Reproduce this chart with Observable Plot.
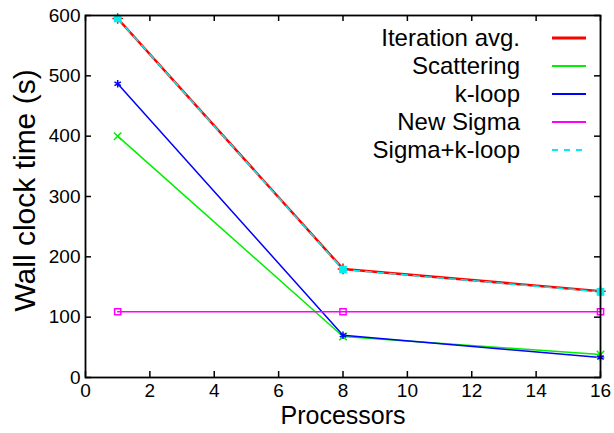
<!DOCTYPE html>
<html>
<head>
<meta charset="utf-8">
<script src="https://cdn.jsdelivr.net/npm/d3@7"></script>
<script src="https://cdn.jsdelivr.net/npm/@observablehq/plot@0.6"></script>
<style>
  html, body { margin: 0; padding: 0; background: #fff; }
  #wrap { position: relative; width: 614px; height: 433px; font-family: "Liberation Sans", Arial, Helvetica, sans-serif; }
  #legend { position: absolute; left: 0px; width: 586px; top: 24px; }
  .row { display: flex; align-items: center; justify-content: flex-end; height: 28px; }
  .row span { font-size: 24px; color: #000; white-space: nowrap; }
  .row svg { margin-left: 32px; margin-right: 0; }
</style>
</head>
<body>
<div id="wrap"></div>
<script>
const processors = [1, 8, 16];
const iterationAvg = [595, 180, 143];
const scattering = [400, 68, 38];
const kLoop = [487, 70, 33];
const newSigma = [109, 109, 109];
const sigmaKLoop = [595, 179, 142];

const xTicks = [0, 2, 4, 6, 8, 10, 12, 14, 16];
const yTicks = [0, 100, 200, 300, 400, 500, 600];

const seriesNames = ["Iteration avg.", "Scattering", "k-loop", "New Sigma", "Sigma+k-loop"];
const seriesValues = [iterationAvg, scattering, kLoop, newSigma, sigmaKLoop];
const seriesColors = ["#ff0000", "#00ee00", "#0000ff", "#ff00ff", "#00eeee"];
const seriesWidths = [2.5, 1.5, 1.5, 1.5, 1.5];
const seriesDash = [null, null, null, null, "6,6"];
const seriesSymbols = ["plus", "times", "asterisk", "square", "square"];
const seriesFill = [false, false, false, false, true];

const W = 614, H = 433, mL = 85, mR = 14, mT = 15, mB = 56, tickLen = 6;
const innerW = W - mL - mR, innerH = H - mT - mB;

const tables = seriesValues.map((vals, s) =>
  processors.map((p, i) => ({p, v: vals[i], s: seriesNames[s]})));

const marks = [];
tables.forEach((t, s) => {
  marks.push(Plot.line(t, {x: "p", y: "v", stroke: seriesColors[s], strokeWidth: seriesWidths[s], strokeDasharray: seriesDash[s]}));
});
tables.forEach((t, s) => {
  marks.push(Plot.dot(t, {x: "p", y: "v", symbol: seriesSymbols[s], r: 3.5,
    stroke: seriesColors[s], strokeWidth: 1.5,
    fill: seriesFill[s] ? seriesColors[s] : "none"}));
});

const tickStyle = {stroke: "#000", strokeOpacity: 1, strokeWidth: 1.5};

const chart = Plot.plot({
  width: W,
  height: H,
  marginLeft: mL,
  marginRight: mR,
  marginTop: mT,
  marginBottom: mB,
  style: {fontFamily: '"Liberation Sans", Arial, Helvetica, sans-serif', background: "#fff", color: "#000"},
  x: {domain: [0, 16]},
  y: {domain: [0, 600]},
  marks: [
    ...marks,
    Plot.axisX(xTicks, {anchor: "bottom", tickSize: 0, tickPadding: 6, fontSize: 19, label: null}),
    Plot.axisY(yTicks, {anchor: "left", tickSize: 0, tickPadding: 5, fontSize: 19, label: null}),
    Plot.gridX(xTicks, {...tickStyle, insetTop: innerH - tickLen}),
    Plot.gridX(xTicks, {...tickStyle, insetBottom: innerH - tickLen}),
    Plot.gridY(yTicks, {...tickStyle, insetRight: innerW - tickLen}),
    Plot.gridY(yTicks, {...tickStyle, insetLeft: innerW - tickLen}),
    Plot.frame({stroke: "#000", strokeWidth: 1.8}),
    Plot.text(["Processors"], {frameAnchor: "bottom", dy: 46, fontSize: 25, fill: "#000"}),
    Plot.text(["Wall clock time (s)"], {frameAnchor: "left", textAnchor: "middle", rotate: -90, dx: -60, dy: -6, fontSize: 30, fill: "#000"})
  ]
});

const wrap = document.getElementById("wrap");
wrap.appendChild(chart);

const legend = document.createElement("div");
legend.id = "legend";
seriesNames.forEach((name, s) => {
  const row = document.createElement("div");
  row.className = "row";
  const label = document.createElement("span");
  label.textContent = name;
  const sw = d3.create("svg").attr("width", 34).attr("height", 10);
  sw.append("line").attr("x1", 0).attr("x2", 34).attr("y1", 5).attr("y2", 5)
    .attr("stroke", seriesColors[s]).attr("stroke-width", seriesWidths[s] + 0.5)
    .attr("stroke-dasharray", seriesDash[s]);
  row.appendChild(label);
  row.appendChild(sw.node());
  legend.appendChild(row);
});
wrap.appendChild(legend);
</script>
</body>
</html>
